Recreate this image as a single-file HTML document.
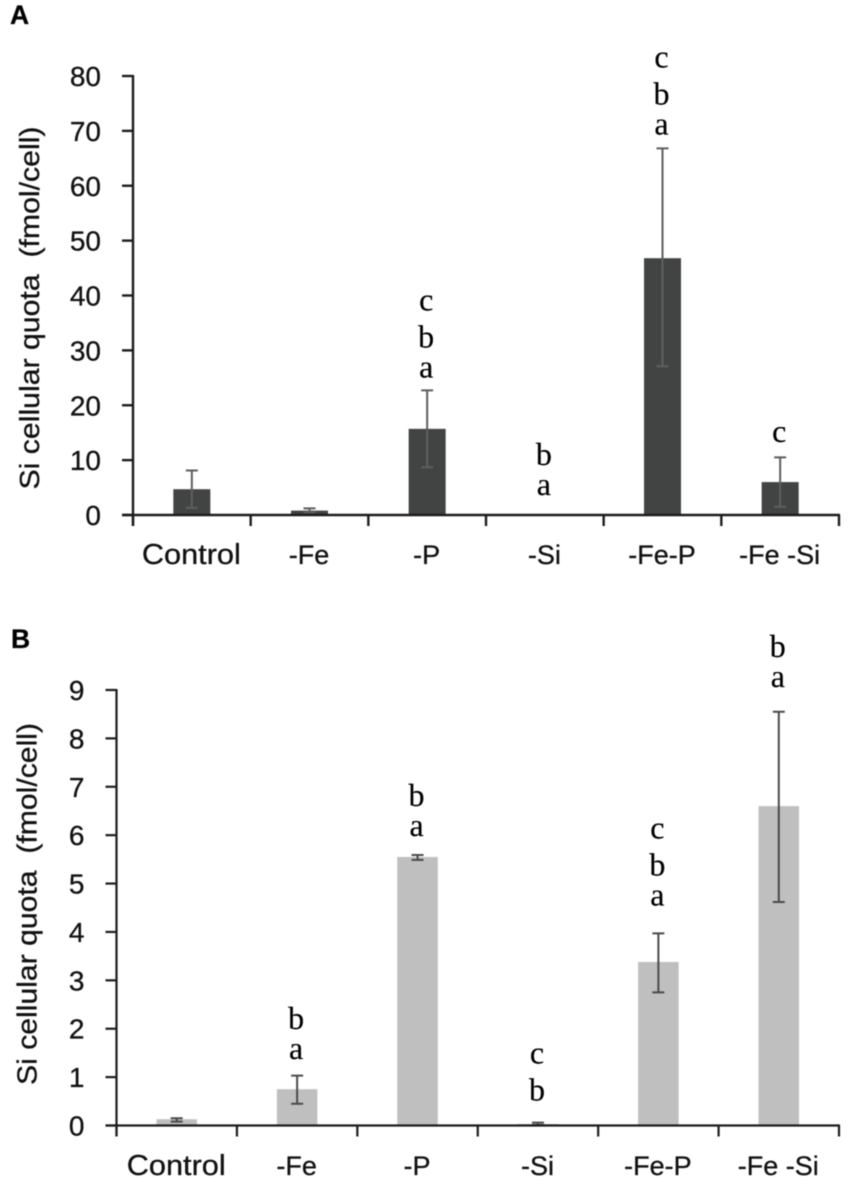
<!DOCTYPE html>
<html lang="en">
<head>
<meta charset="utf-8">
<title>Si cellular quota</title>
<style>
html,body{margin:0;padding:0;background:#fff;width:868px;height:1186px;overflow:hidden}
svg{display:block;filter:blur(0.45px)}
text{white-space:pre}
.sans{font-family:"Liberation Sans",sans-serif;fill:#111;stroke:#111;stroke-width:0.3px}
.serif{font-family:"Liberation Serif",serif;fill:#000;stroke:#000;stroke-width:0.2px}
</style>
</head>
<body>
<svg id="figure" width="868" height="1186" viewBox="0 0 868 1186" xmlns="http://www.w3.org/2000/svg"></svg>
<script>
const categories = ['Control', '-Fe', '-P', '-Si', '-Fe-P', '-Fe -Si'];

const ticksA = [0, 10, 20, 30, 40, 50, 60, 70, 80];
const valuesA = [4.7, 0.8, 15.7, 0, 46.8, 6.0];
const errHighA = [8.1, 1.2, 22.7, 0, 66.8, 10.5];
const errLowA = [1.3, 0.5, 8.7, 0, 27.1, 1.5];
const lettersA = [[], [], ['a', 'b', 'c'], ['a', 'b'], ['a', 'b', 'c'], ['c']];
const letterLevelA = [0, 0, 25.1, 3.6, 69.3, 13.3];

const ticksB = [0, 1, 2, 3, 4, 5, 6, 7, 8, 9];
const valuesB = [0.13, 0.75, 5.55, 0.03, 3.38, 6.6];
const errHighB = [0.15, 1.03, 5.59, 0.06, 3.97, 8.55];
const errLowB = [0.08, 0.45, 5.49, 0.01, 2.75, 4.62];
const lettersB = [[], ['a', 'b'], ['a', 'b'], ['b', 'c'], ['a', 'b', 'c'], ['a', 'b']];
const letterLevelB = [0, 1.37, 5.98, 0.52, 4.55, 9.06];

const NS = 'http://www.w3.org/2000/svg';
const svg = document.getElementById('figure');

function make(parent, tag, attrs, txt) {
  const el = document.createElementNS(NS, tag);
  for (const k in attrs) el.setAttribute(k, attrs[k]);
  if (txt !== undefined) el.textContent = txt;
  parent.appendChild(el);
  return el;
}

function drawPanel(cfg) {
  const g = make(svg, 'g', {});
  
  

  const y = v => cfg.y0 - (v / cfg.max) * (cfg.y0 - cfg.yTop);
  const step = (cfg.x1 - cfg.x0) / cfg.cats.length;
  const xc = i => cfg.x0 + (i + 0.5) * step;

  const panel = make(g, 'text', {class: 'sans', x: cfg.panelX, y: cfg.panelY, 'font-size': 26.5, 'font-weight': 'bold', style: 'fill:#000'}, cfg.panelLabel);
  
  

  const title = make(g, 'text', {class: 'sans', 'font-size': 28, 'text-anchor': 'middle',
    transform: 'translate(' + cfg.titleX + ' ' + cfg.titleY + ') rotate(-90)',
    textLength: cfg.titleLen, lengthAdjust: 'spacingAndGlyphs'}, 'Si cellular quota  (fmol/cell)');
  
  

  cfg.vals.forEach((v, i) => {
    const bar = make(g, 'rect', {x: xc(i) - cfg.barW / 2, y: y(v), width: cfg.barW, height: Math.max(0, cfg.y0 - y(v)), fill: cfg.barColor});
    
    

    if (cfg.hi[i] > 0) {
      const err = make(g, 'path', {
        d: 'M' + (xc(i) - 6) + ' ' + y(cfg.hi[i]) + 'h12M' + xc(i) + ' ' + y(cfg.hi[i]) + 'V' + y(cfg.lo[i]) + 'M' + (xc(i) - 6) + ' ' + y(cfg.lo[i]) + 'h12',
        fill: 'none', stroke: cfg.errColor, 'stroke-width': 2
      });
      
      
    }

    let base = y(cfg.level[i]);
    cfg.letters[i].forEach((ch, j) => {
      if (j > 0) base -= ch === 'c' ? 37 : 30;
      const t = make(g, 'text', {class: 'serif', x: xc(i) - 1, y: base, 'font-size': 32, 'text-anchor': 'middle'}, ch);
      
      
    });

    const lab = make(g, 'text', {class: 'sans', x: xc(i) - 0.5, y: cfg.catY, 'font-size': 27, 'text-anchor': 'middle'}, cfg.cats[i]);
    if (cfg.cats[i] === 'Control') {
      lab.setAttribute('font-size', 29);
      lab.setAttribute('textLength', 99);
      lab.setAttribute('lengthAdjust', 'spacingAndGlyphs');
    }
    
    
  });

  const yAxis = make(g, 'line', {x1: cfg.x0, x2: cfg.x0, y1: y(cfg.max) - 1, y2: cfg.y0 + 11, stroke: '#1c1c1c', 'stroke-width': cfg.axisW});
  
  

  const xAxis = make(g, 'line', {x1: cfg.x0 - 11, x2: cfg.x1 + 1, y1: cfg.y0, y2: cfg.y0, stroke: '#1c1c1c', 'stroke-width': cfg.axisW});
  
  

  cfg.ticks.forEach(tv => {
    const tick = make(g, 'line', {x1: cfg.x0 - 11, x2: cfg.x0, y1: y(tv), y2: y(tv), stroke: '#1c1c1c', 'stroke-width': cfg.axisW});
    
    
    const lab = make(g, 'text', {class: 'sans', x: cfg.x0 - 32, y: y(tv) + 10, 'font-size': 28, 'text-anchor': 'end'}, String(tv));
    
    
  });

  for (let i = 0; i <= cfg.cats.length; i++) {
    const px = cfg.x0 + i * step;
    const tick = make(g, 'line', {x1: px, x2: px, y1: cfg.y0, y2: cfg.y0 + 11, stroke: '#1c1c1c', 'stroke-width': cfg.axisW});
    
    
  }
}

drawPanel({
  id: 'panel-a', panelLabel: 'A', panelX: 10, panelY: 24,
  x0: 133, x1: 839, y0: 515, yTop: 76, max: 80, barW: 37, axisW: 2.4, catY: 564,
  titleX: 39, titleY: 308, titleLen: 363,
  barColor: '#424443', errColor: '#5e5e5e',
  cats: categories, ticks: ticksA, vals: valuesA, hi: errHighA, lo: errLowA,
  letters: lettersA, level: letterLevelA
});

drawPanel({
  id: 'panel-b', panelLabel: 'B', panelX: 11, panelY: 648,
  x0: 116.5, x1: 839, y0: 1125.5, yTop: 690, max: 9, barW: 40.5, axisW: 2.2, catY: 1175,
  titleX: 36.5, titleY: 904, titleLen: 362,
  barColor: '#bfbfbf', errColor: '#4a4a4a',
  cats: categories, ticks: ticksB, vals: valuesB, hi: errHighB, lo: errLowB,
  letters: lettersB, level: letterLevelB
});
</script>
</body>
</html>
